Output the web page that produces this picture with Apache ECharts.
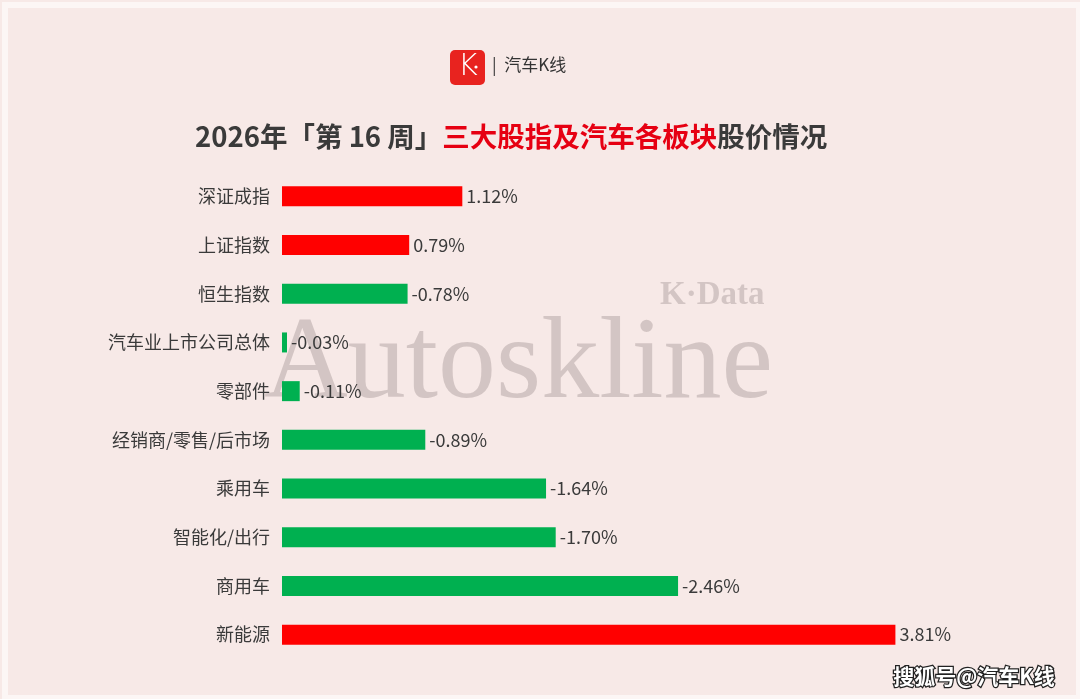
<!DOCTYPE html>
<html><head><meta charset="utf-8">
<script src="https://cdn.jsdelivr.net/npm/echarts@6/dist/echarts.min.js"></script>
<style>html,body{margin:0;padding:0;background:#fbf5f4;}#c{width:1080px;height:699px;}</style>
</head><body><div id="c"></div>
<script>
const categories = ['深证成指','上证指数','恒生指数','汽车业上市公司总体','零部件','经销商/零售/后市场','乘用车','智能化/出行','商用车','新能源'];
const changes = [1.12, 0.79, -0.78, -0.03, -0.11, -0.89, -1.64, -1.70, -2.46, 3.81];
const labelTexts = ['1.12%','0.79%','-0.78%','-0.03%','-0.11%','-0.89%','-1.64%','-1.70%','-2.46%','3.81%'];

const RED = '#ff0000', GREEN = '#00b050';
const chart = echarts.init(document.getElementById('c'));
const FONT = '"Noto Sans CJK SC", "Noto Sans", sans-serif';
chart.setOption({
  backgroundColor: '#f7e9e7',
  textStyle: {fontFamily: FONT},
  grid: {left: 282, right: 154, top: 172, bottom: 40, containLabel: false},
  xAxis: {type: 'value', min: 0, max: 4, show: false},
  yAxis: {
    type: 'category', data: categories, inverse: true,
    axisLine: {show: false}, axisTick: {show: false},
    axisLabel: {color: '#3a3a3a', fontSize: 18, margin: 12, fontFamily: FONT}
  },
  graphic: [
    {type: 'rect', left: 2, top: 2, shape: {width: 1074, height: 693}, style: {fill: 'none', stroke: '#fcf6f5', lineWidth: 6}, z: 100},
    {type: 'text', left: 264, top: 309, z: 0, style: {text: 'Autoskline', font: '400 116px "Liberation Serif", "DejaVu Serif", serif', fill: 'rgba(140,125,125,0.33)'}},
    {type: 'text', left: 660, top: 279, z: 0, style: {text: 'K·Data', font: 'bold 33px "Liberation Serif", "DejaVu Serif", serif', fill: 'rgba(140,125,125,0.33)'}},
    {type: 'rect', left: 450, top: 50, shape: {width: 35, height: 35, r: 5}, style: {fill: '#e8231f'}},
    {type: 'text', left: 458, top: 52, style: {text: 'K', font: '300 30px "DejaVu Sans", sans-serif', fill: '#ffffff'}},
    {type: 'circle', shape: {cx: 476, cy: 67, r: 1.6}, style: {fill: '#ffffff'}},
    {type: 'text', left: 492, top: 56, style: {text: '|  汽车K线', font: '17px ' + FONT, fill: '#333333'}},
    {type: 'text', left: 195, top: 123, style: {
      text: '{a|2026年「第 16 周」}{b|三大股指及汽车各板块}{a|股价情况}',
      rich: {
        a: {fontSize: 27.5, fontWeight: 'bold', fill: '#3a3a3a', fontFamily: FONT},
        b: {fontSize: 27.5, fontWeight: 'bold', fill: '#e60012', fontFamily: FONT}
      }
    }},
    {type: 'text', right: 24, top: 664, style: {text: '搜狐号@汽车K线', font: 'bold 21px ' + FONT, fill: '#ffffff', stroke: '#222222', lineWidth: 2.5}}
  ],
  series: [{
    type: 'bar', barWidth: 20, z: 5,
    data: changes.map((v, i) => ({value: Math.abs(v), itemStyle: {color: v >= 0 ? RED : GREEN}})),
    barMinHeight: 5,
    label: {
      show: true, position: 'right', distance: 4, color: '#3a3a3a', fontSize: 18, fontFamily: FONT,
      formatter: p => labelTexts[p.dataIndex]
    }
  }]
});
</script></body></html>
